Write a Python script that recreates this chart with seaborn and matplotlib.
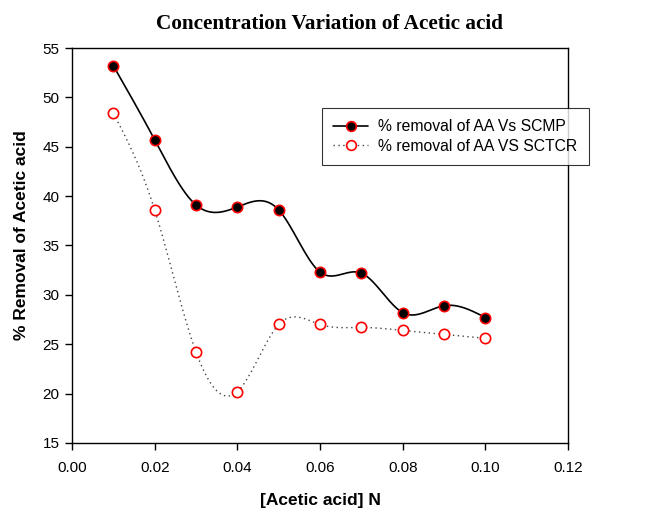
import numpy as np
import pandas as pd
import matplotlib
matplotlib.use("Agg")
import matplotlib.pyplot as plt
from matplotlib.lines import Line2D
import seaborn as sns

# Acetic acid concentration (N) and % removal for the two adsorbents
concentration = [0.01, 0.02, 0.03, 0.04, 0.05, 0.06, 0.07, 0.08, 0.09, 0.10]
removal_scmp = [53.2, 45.7, 39.1, 38.9, 38.6, 32.3, 32.2, 28.2, 28.9, 27.7]
removal_sctcr = [48.4, 38.6, 24.2, 20.2, 27.0, 27.0, 26.7, 26.4, 26.0, 25.6]

label_scmp = "% removal of AA Vs SCMP"
label_sctcr = "% removal of AA VS SCTCR"

x_ticks = [0.00, 0.02, 0.04, 0.06, 0.08, 0.10, 0.12]
y_ticks = [15, 20, 25, 30, 35, 40, 45, 50, 55]


def natural_spline(x, y, n_out=400):
    """Smooth natural cubic spline through the given points."""
    x = np.asarray(x, float)
    y = np.asarray(y, float)
    n = len(x)
    h = np.diff(x)
    A = np.zeros((n, n))
    b = np.zeros(n)
    A[0, 0] = A[-1, -1] = 1.0
    for i in range(1, n - 1):
        A[i, i - 1] = h[i - 1]
        A[i, i] = 2 * (h[i - 1] + h[i])
        A[i, i + 1] = h[i]
        b[i] = 6 * ((y[i + 1] - y[i]) / h[i] - (y[i] - y[i - 1]) / h[i - 1])
    M = np.linalg.solve(A, b)
    xs = np.linspace(x[0], x[-1], n_out)
    idx = np.clip(np.searchsorted(x, xs) - 1, 0, n - 2)
    x0, x1 = x[idx], x[idx + 1]
    hi = x1 - x0
    t0, t1 = x1 - xs, xs - x0
    ys = (M[idx] * t0 ** 3 / (6 * hi) + M[idx + 1] * t1 ** 3 / (6 * hi)
          + (y[idx] / hi - M[idx] * hi / 6) * t0
          + (y[idx + 1] / hi - M[idx + 1] * hi / 6) * t1)
    return xs, ys


sns.set_theme(style="white")
plt.rcParams["font.family"] = ["Liberation Sans", "DejaVu Sans"]
plt.rcParams["text.color"] = "black"
plt.rcParams["axes.labelcolor"] = "black"

fig = plt.figure(figsize=(6.56, 5.08), dpi=100)
ax = fig.add_axes([0.1098, 0.128, 0.7562, 0.7775])

xs1, ys1 = natural_spline(concentration, removal_scmp)
xs2, ys2 = natural_spline(concentration, removal_sctcr)

sns.lineplot(x=xs1, y=ys1, ax=ax, color="black", lw=1.2, sort=False)
sns.lineplot(x=xs2, y=ys2, ax=ax, color="#444444", lw=1.0, sort=False,
             linestyle=(0, (1, 2.5)))

df = pd.DataFrame({"x": concentration, "scmp": removal_scmp, "sctcr": removal_sctcr})
sns.scatterplot(data=df, x="x", y="scmp", ax=ax, s=55, color="black",
                edgecolor="red", linewidth=1.2, zorder=5)
sns.scatterplot(data=df, x="x", y="sctcr", ax=ax, s=55, color="white",
                edgecolor="red", linewidth=1.2, zorder=5)

ax.set_xlim(0, 0.12)
ax.set_ylim(15, 55)
ax.set_xticks(x_ticks)
ax.set_xticklabels([f"{v:.2f}" for v in x_ticks])
ax.set_yticks(y_ticks)
ax.set_yticklabels([str(v) for v in y_ticks])

for sp in ax.spines.values():
    sp.set_color("black")
    sp.set_linewidth(1.0)
ax.tick_params(direction="out", length=5, width=1.0, color="black",
               labelsize=11, labelcolor="black", bottom=True, left=True)
ax.tick_params(axis="x", pad=8)
ax.tick_params(axis="y", pad=4)

ax.set_xlabel("[Acetic acid] N", fontsize=12.5, fontweight="bold", labelpad=13)
ax.set_ylabel("% Removal of Acetic acid", fontsize=12.5, fontweight="bold")
ax.yaxis.set_label_coords(-0.087, 0.525)

fig.text(0.503, 0.952, "Concentration Variation of Acetic acid",
         ha="center", va="center", fontsize=15.3, fontweight="bold",
         color="black", family=["Liberation Serif", "DejaVu Serif"])

handles = [
    Line2D([], [], color="black", lw=1.2, marker="o", markersize=7,
           markerfacecolor="black", markeredgecolor="red", markeredgewidth=1.2),
    Line2D([], [], color="#444444", lw=1.0, linestyle=(0, (1, 2.5)), marker="o",
           markersize=7, markerfacecolor="white", markeredgecolor="red",
           markeredgewidth=1.2),
]
leg = ax.legend(handles, [label_scmp, label_sctcr], loc="upper left",
                bbox_to_anchor=(0.504, 0.848), frameon=True, fancybox=False,
                edgecolor="black", fontsize=11.3, handlelength=2.25,
                borderpad=0.7, labelspacing=0.3, handletextpad=0.64,
                borderaxespad=0.0)
leg.get_frame().set_linewidth(0.8)

fig.savefig("out.png", dpi=100)
